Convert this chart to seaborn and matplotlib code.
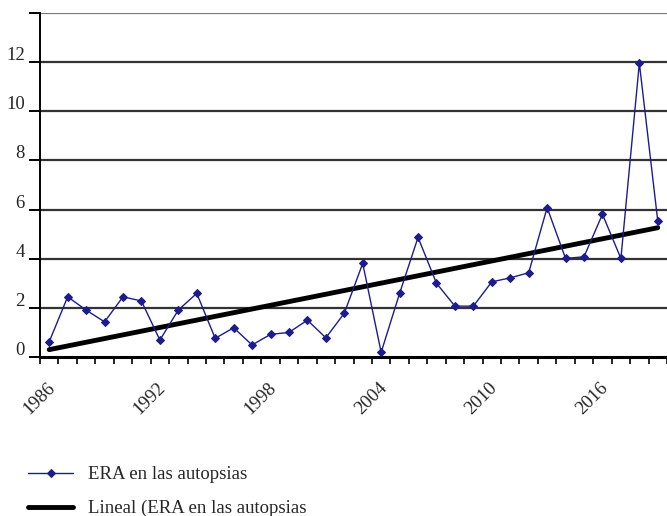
import numpy as np
import pandas as pd
import matplotlib
matplotlib.use("Agg")
import matplotlib.pyplot as plt
import matplotlib.transforms as mtransforms
import seaborn as sns

years = list(range(1986, 2020))
era_values = [0.62, 2.45, 1.91, 1.43, 2.45, 2.28, 0.69, 1.91, 2.59, 0.76,
              1.19, 0.49, 0.92, 1.00, 1.50, 0.78, 1.78, 3.81, 0.19, 2.59,
              4.87, 3.00, 2.07, 2.07, 3.06, 3.22, 3.43, 6.08, 4.01, 4.08,
              5.81, 4.01, 11.96, 5.53]
label_years = [1986, 1992, 1998, 2004, 2010, 2016]
y_ticks = [0, 2, 4, 6, 8, 10, 12, 14]
y_labels = ["0", "2", "4", "6", "8", "10", "12", ""]
series_name = "ERA en las autopsias"
trend_name = "Lineal (ERA en las autopsias"

sns.set_style("white")
plt.rcParams['font.family'] = ['Liberation Serif', 'DejaVu Serif']
FS = 13.5

pos = np.arange(len(years))
df = pd.DataFrame({"pos": pos, "val": era_values})
coef = np.polyfit(pos, era_values, 1)
df["trend"] = np.polyval(coef, pos)

fig = plt.figure(figsize=(6.67, 5.16), dpi=100)
ax = fig.add_axes([40 / 667, 1 - 357 / 516, 1 - 40 / 667, 344 / 516])

for yv in y_ticks[1:]:
    ax.axhline(yv, color="#333333" if yv < 14 else "#777777", lw=1.6, zorder=1)

sns.lineplot(data=df, x="pos", y="trend", ax=ax, color="black", lw=3.5,
             zorder=3, label=trend_name)
sns.lineplot(data=df, x="pos", y="val", ax=ax, color="#1c1c8c", lw=1.0,
             marker="D", markersize=4.5, markeredgecolor="#1c1c8c",
             zorder=4, label=series_name)

ax.set_xlim(-0.45, len(years) - 1 + 0.02)
ax.set_ylim(0, 14)
ax.set_yticks(y_ticks)
ax.set_yticklabels(y_labels, fontsize=FS)
ax.set_xticks([years.index(y) for y in label_years])
ax.set_xticklabels([str(y) for y in label_years], rotation=45, ha="right",
                   va="top", rotation_mode="anchor", fontsize=FS)
ax.set_xticks(np.arange(-0.5, len(years), 1.0), minor=True)
ax.tick_params(axis="x", which="major", length=0, pad=16)
ax.tick_params(axis="x", which="minor", length=5, width=1.2, direction="out",
               color="black", bottom=True)
ax.tick_params(axis="y", length=8, width=1.4, direction="out", color="black",
               left=True, pad=3)
shift_x = mtransforms.ScaledTranslation(-3 / 100, 0, fig.dpi_scale_trans)
for lbl in ax.get_xticklabels():
    lbl.set_transform(lbl.get_transform() + shift_x)
for lbl in ax.get_yticklabels():
    lbl.set_va("baseline")
    lbl.set_transform(lbl.get_transform() +
                      mtransforms.ScaledTranslation(0, 2 / 100, fig.dpi_scale_trans))
ax.set_xlabel("")
ax.set_ylabel("")

for s in ["top", "right"]:
    ax.spines[s].set_visible(False)
ax.spines["left"].set_color("black")
ax.spines["left"].set_linewidth(1.4)
ax.spines["bottom"].set_color("black")
ax.spines["bottom"].set_linewidth(2.2)

handles, labels = ax.get_legend_handles_labels()
ax.legend_.remove()
order = [labels.index(series_name), labels.index(trend_name)]
fig.legend([handles[i] for i in order], [labels[i] for i in order],
           loc="upper left", bbox_to_anchor=(28 / 667, 1 - 466 / 516),
           borderaxespad=0, borderpad=0,
           frameon=False, fontsize=FS, handlelength=2.4, labelspacing=0.9,
           handletextpad=0.8)

fig.savefig("out.png", dpi=100)
